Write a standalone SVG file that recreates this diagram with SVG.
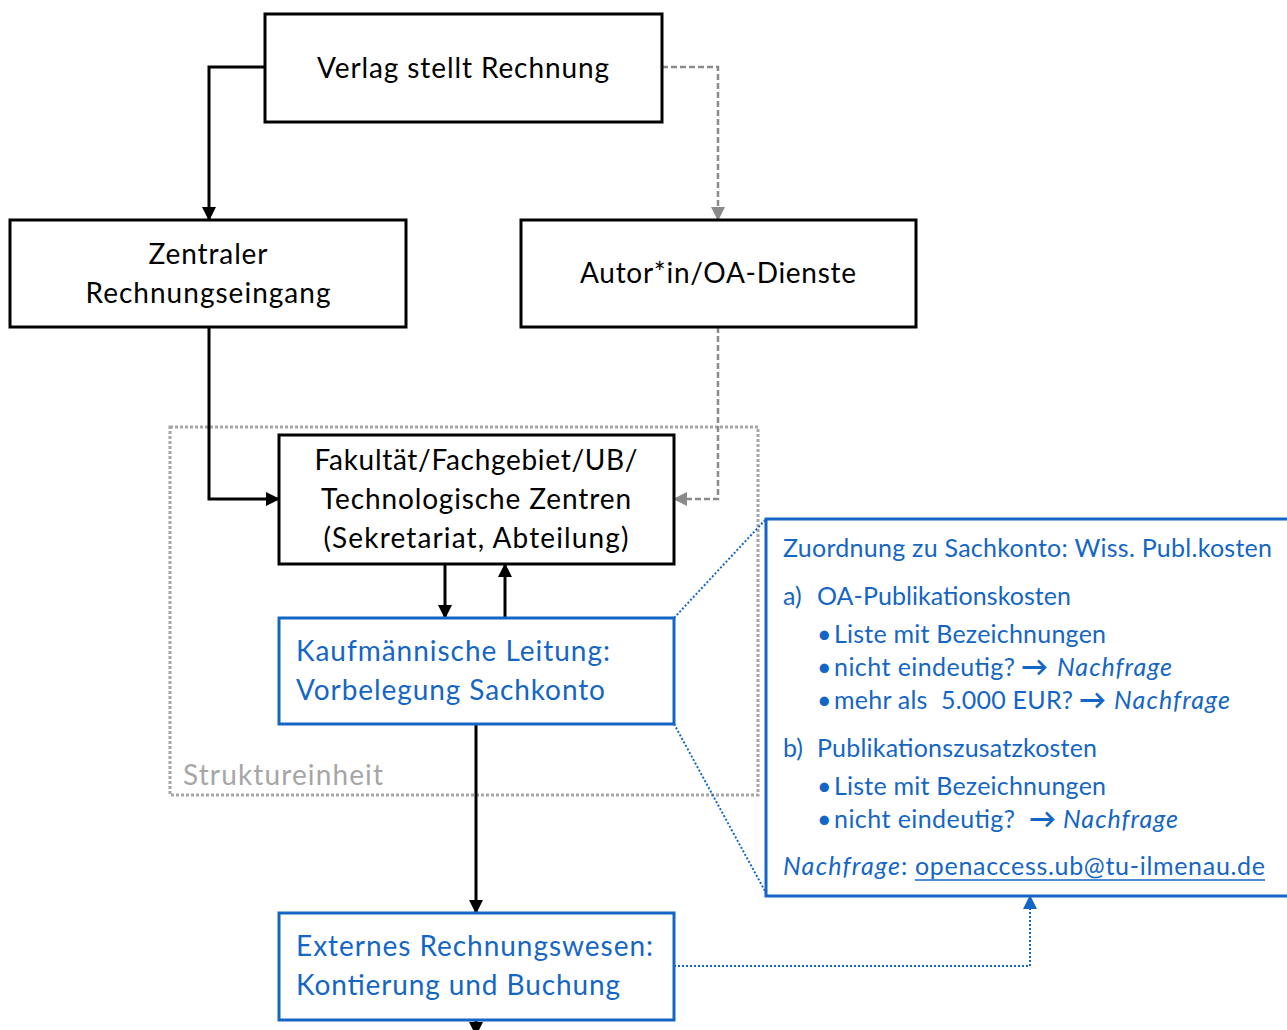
<svg xmlns="http://www.w3.org/2000/svg" width="1287" height="1030" viewBox="0 0 1287 1030">
<style>
text{font-family:Lato,"Open Sans","Liberation Sans",sans-serif}
.bx{fill:#fff;stroke:#000;stroke-width:3}
.bb{fill:#fff;stroke:#1466c6;stroke-width:3}
.t{font-size:28px;fill:#000}
.tb{font-size:28px;fill:#1466c6}
.s{font-size:25px;fill:#1466c6}
.i{font-style:italic}
.ar{font-size:27px;font-weight:bold}
.k{stroke:#000;stroke-width:3;fill:none}
.g{stroke:#8a8a8a;stroke-width:2.5;fill:none;stroke-dasharray:6 3}
.bd{stroke:#1466c6;stroke-width:2;fill:none;stroke-dasharray:2 2}
</style>
<defs>
<marker id="ak" markerWidth="14" markerHeight="14" refX="12" refY="7" orient="auto" markerUnits="userSpaceOnUse"><path d="M0,0L14,7L0,14z" fill="#000"/></marker>
<marker id="ag" markerWidth="14" markerHeight="14" refX="12" refY="7" orient="auto" markerUnits="userSpaceOnUse"><path d="M0,0L14,7L0,14z" fill="#8a8a8a"/></marker>
<marker id="ab" markerWidth="14" markerHeight="14" refX="12" refY="7" orient="auto" markerUnits="userSpaceOnUse"><path d="M0,0L14,7L0,14z" fill="#1466c6"/></marker>
</defs>
<rect x="0" y="0" width="1287" height="1030" fill="#fff"/>
<g id="struktureinheit">
<rect x="170" y="427" width="588" height="368" fill="none" stroke="#a6a6a6" stroke-width="3" stroke-dasharray="3 2"/>
<text x="183" y="785" font-size="28" fill="#a6a6a6" textLength="200">Struktureinheit</text>
</g>
<g id="connectors">
<path class="k" d="M265,67H209V219" marker-end="url(#ak)"/>
<path class="g" d="M662,67H718V219" marker-end="url(#ag)"/>
<path class="k" d="M209,327V499H278" marker-end="url(#ak)"/>
<path class="g" d="M718,327V499H675" marker-end="url(#ag)"/>
<path class="k" d="M445,564V617" marker-end="url(#ak)"/>
<path class="k" d="M505,618V565" marker-end="url(#ak)"/>
<path class="k" d="M476,724V912" marker-end="url(#ak)"/>
<path class="k" d="M476,1020V1034" marker-end="url(#ak)"/>
<path class="bd" d="M674,966H1030V897" marker-end="url(#ab)"/>
<path class="bd" d="M674,618L766,519"/>
<path class="bd" d="M674,724L766,893"/>
</g>
<g id="verlag">
<rect class="bx" x="265" y="14" width="397" height="108"/>
<text class="t" x="463" y="78" text-anchor="middle" textLength="292">Verlag stellt Rechnung</text>
</g>
<g id="zentraler">
<rect class="bx" x="10" y="220" width="396" height="107"/>
<text class="t" x="208" y="264" text-anchor="middle" textLength="119">Zentraler</text>
<text class="t" x="208" y="303" text-anchor="middle" textLength="245">Rechnungseingang</text>
</g>
<g id="autor">
<rect class="bx" x="521" y="220" width="395" height="107"/>
<text class="t" x="718" y="283" text-anchor="middle" textLength="276">Autor*in/OA-Dienste</text>
</g>
<g id="fakultaet">
<rect class="bx" x="279" y="435" width="395" height="129"/>
<text class="t" x="476" y="470" text-anchor="middle" textLength="323">Fakultät/Fachgebiet/UB/</text>
<text class="t" x="476" y="509" text-anchor="middle" textLength="310">Technologische Zentren</text>
<text class="t" x="476" y="548" text-anchor="middle" textLength="305">(Sekretariat, Abteilung)</text>
</g>
<g id="kaufmaennisch">
<rect class="bb" x="279" y="618" width="395" height="106"/>
<text class="tb" x="296" y="661" textLength="314">Kaufmännische Leitung:</text>
<text class="tb" x="296" y="700" textLength="309">Vorbelegung Sachkonto</text>
</g>
<g id="extern">
<rect class="bb" x="279" y="913" width="395" height="107"/>
<text class="tb" x="296" y="956" textLength="357">Externes Rechnungswesen:</text>
<text class="tb" x="296" y="995" textLength="324">Kontierung und Buchung</text>
</g>
<g id="sachkonto">
<rect class="bb" x="766" y="519" width="530" height="377"/>
<text class="s" x="783" y="557" textLength="489">Zuordnung zu Sachkonto: Wiss. Publ.kosten</text>
<text class="s" x="783" y="605">a)</text>
<text class="s" x="817" y="605" textLength="254">OA-Publikationskosten</text>
<text class="s" x="817" y="643">•</text>
<text class="s" x="834" y="643" textLength="272">Liste mit Bezeichnungen</text>
<text class="s" x="817" y="676">•</text>
<text class="s" x="834" y="676" textLength="181">nicht eindeutig?</text>
<text class="s ar" x="1021" y="676">→</text>
<text class="s i" x="1057" y="676" textLength="115">Nachfrage</text>
<text class="s" x="817" y="709">•</text>
<text class="s" x="834" y="709" textLength="239" xml:space="preserve">mehr als  5.000 EUR?</text>
<text class="s ar" x="1079" y="709">→</text>
<text class="s i" x="1114" y="709" textLength="116">Nachfrage</text>
<text class="s" x="783" y="757">b)</text>
<text class="s" x="817" y="757" textLength="280">Publikationszusatzkosten</text>
<text class="s" x="817" y="795">•</text>
<text class="s" x="834" y="795" textLength="272">Liste mit Bezeichnungen</text>
<text class="s" x="817" y="828">•</text>
<text class="s" x="834" y="828" textLength="181">nicht eindeutig?</text>
<text class="s ar" x="1029" y="828">→</text>
<text class="s i" x="1063" y="828" textLength="115">Nachfrage</text>
<text class="s i" x="783" y="875" textLength="117">Nachfrage</text>
<text class="s" x="901" y="875">:</text>
<text class="s" x="915" y="875" textLength="350">openaccess.ub@tu-ilmenau.de</text>
<line x1="915" y1="880" x2="1265" y2="880" stroke="#1466c6" stroke-width="1.5"/>
</g>
</svg>
